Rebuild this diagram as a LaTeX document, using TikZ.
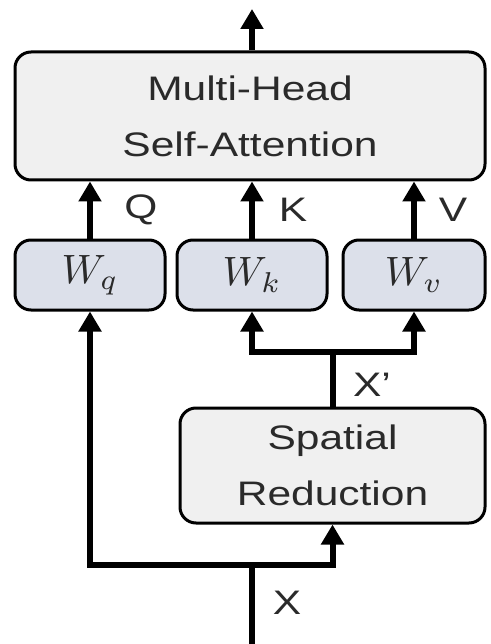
\documentclass[tikz,border=0pt]{standalone}
\usepackage{fontspec}
\setmainfont{Liberation Sans}[FakeStretch=1.25]
\usetikzlibrary{arrows.meta}
\definecolor{boxgray}{HTML}{F0F0F0}
\definecolor{wblue}{HTML}{DCE0EA}
\definecolor{txt}{HTML}{2A2A2A}
\newcommand{\wlabel}[1]{\scalebox{4.1}{$W_{#1}$}}
\begin{document}
\begin{tikzpicture}[x=1pt,y=-1pt,
  blk/.style={draw=black, line width=3pt, rounded corners=16pt, fill=boxgray, text=txt, align=center, font=\fontsize{34}{56}\selectfont, inner sep=0pt},
  wbox/.style={blk, fill=wblue, minimum width=150pt, minimum height=70pt, font=\fontsize{10}{12}\selectfont},
  ln/.style={line width=6pt},
  arr/.style={ln, -{Triangle[width=22pt,length=20pt]}},
  lbl/.style={text=txt, font=\fontsize{34}{40}\selectfont, inner sep=0pt}]
\fill[white] (0,0) rectangle (490,644);
\useasboundingbox (0,0) rectangle (490,644);
\node[blk, minimum width=470pt, minimum height=128pt] (mhsa) at (250,116) {Multi-Head\\Self-Attention};
\node[wbox] (wq) at (90,275) {\wlabel{q}};
\node[wbox] (wk) at (252,275) {\wlabel{k}};
\node[wbox, minimum width=142pt] (wv) at (414,275) {\wlabel{v}};
\node[blk, minimum width=305pt, minimum height=115pt] (sr) at (332.5,465.5) {Spatial\\Reduction};
% output
\coordinate (out) at (252,9);
\draw[arr] (out |- mhsa.north) -- (out);
% Q K V
\draw[arr] (wq.north) -- (wq.north |- mhsa.south);
\draw[arr] (wk.north) -- (wk.north |- mhsa.south);
\draw[arr] (wv.north) -- (wv.north |- mhsa.south);
\node[lbl] (q) at (141,210) {Q};
\node[lbl] (k) at (293,210) {K};
\node[lbl] (v) at (453,210) {V};
% X' split
\coordinate (h) at (0,352);
\coordinate (split) at (sr.north |- h);
\draw[ln] (sr.north) -- (split);
\draw[arr] (split) -| (wk.south);
\draw[arr] (split) -| (wv.south);
\node[lbl] (xp) at (372,385) {X'};
% input
\coordinate (in) at (252,644);
\coordinate (j) at (252,565);
\draw[ln] (in) -- (j);
\draw[arr] (j) -| (wq.south);
\draw[arr] (j) -| (sr.south);
\node[lbl] (x) at (287,603) {X};
\end{tikzpicture}
\end{document}
